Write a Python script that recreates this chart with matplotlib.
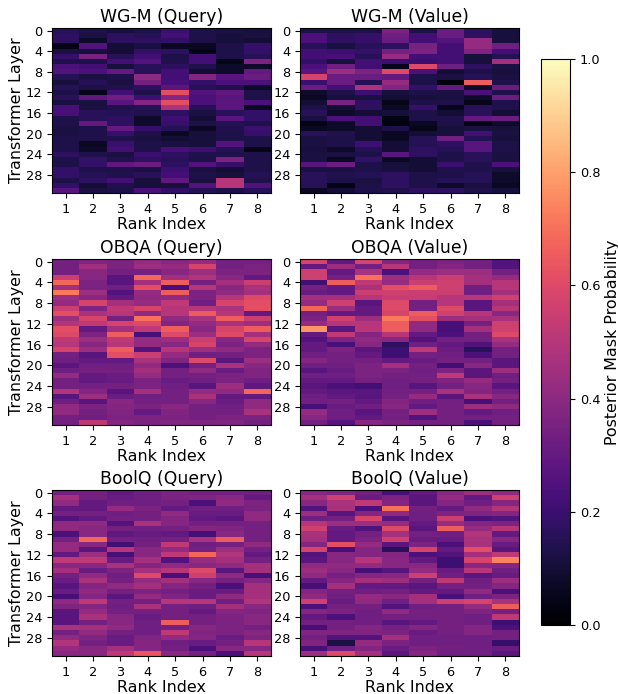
import matplotlib
matplotlib.use("Agg")
import matplotlib.pyplot as plt
import numpy as np

W, H = 618, 694

rank_labels = [1, 2, 3, 4, 5, 6, 7, 8]
layer_ticks = [0, 4, 8, 12, 16, 20, 24, 28]

wgm_query = [
    [.16, .13, .11, .13, .20, .13, .12, .11],
    [.17, .12, .17, .15, .22, .13, .11, .12],
    [.17, .08, .17, .17, .18, .13, .11, .10],
    [.04, .26, .10, .12, .07, .07, .13, .19],
    [.12, .11, .10, .18, .17, .04, .13, .18],
    [.19, .35, .16, .22, .13, .22, .13, .16],
    [.14, .13, .22, .26, .14, .22, .05, .36],
    [.24, .22, .11, .16, .17, .14, .08, .08],
    [.26, .24, .30, .16, .22, .10, .08, .30],
    [.15, .12, .13, .40, .22, .38, .27, .32],
    [.11, .15, .12, .34, .23, .18, .24, .24],
    [.15, .13, .14, .17, .28, .16, .14, .08],
    [.13, .05, .22, .13, .62, .26, .29, .13],
    [.16, .29, .33, .21, .38, .24, .27, .13],
    [.12, .12, .27, .38, .62, .24, .28, .24],
    [.23, .12, .14, .15, .48, .15, .28, .07],
    [.23, .16, .15, .14, .17, .12, .16, .18],
    [.13, .16, .17, .08, .21, .10, .27, .18],
    [.13, .30, .17, .08, .19, .13, .15, .14],
    [.12, .13, .30, .19, .15, .07, .14, .20],
    [.12, .13, .19, .13, .07, .11, .13, .19],
    [.13, .14, .14, .12, .10, .11, .13, .13],
    [.13, .07, .20, .13, .12, .11, .26, .13],
    [.13, .08, .22, .13, .23, .21, .15, .05],
    [.17, .14, .12, .20, .17, .14, .14, .13],
    [.13, .18, .14, .17, .16, .13, .36, .13],
    [.13, .18, .29, .32, .17, .26, .19, .13],
    [.18, .13, .13, .12, .21, .12, .10, .13],
    [.18, .15, .14, .16, .22, .13, .11, .15],
    [.13, .17, .22, .11, .29, .12, .50, .14],
    [.18, .10, .14, .11, .11, .26, .50, .25],
    [.27, .12, .13, .24, .18, .15, .13, .16],
]

wgm_value = [
    [.13, .13, .13, .36, .13, .32, .17, .11],
    [.24, .17, .19, .33, .22, .32, .17, .11],
    [.24, .17, .19, .32, .22, .26, .42, .11],
    [.16, .12, .16, .17, .35, .22, .42, .33],
    [.22, .20, .19, .34, .36, .22, .37, .22],
    [.22, .23, .15, .42, .22, .22, .11, .15],
    [.18, .11, .22, .20, .20, .22, .11, .46],
    [.24, .33, .22, .05, .60, .33, .17, .12],
    [.27, .44, .36, .60, .24, .10, .13, .11],
    [.58, .32, .32, .30, .13, .12, .15, .12],
    [.20, .32, .15, .42, .13, .02, .66, .14],
    [.32, .22, .48, .37, .18, .30, .08, .32],
    [.08, .13, .20, .11, .13, .12, .24, .14],
    [.07, .11, .12, .10, .11, .12, .08, .32],
    [.10, .35, .17, .05, .13, .13, .05, .14],
    [.13, .10, .17, .07, .19, .05, .16, .14],
    [.16, .08, .10, .11, .13, .10, .16, .10],
    [.12, .24, .22, .04, .13, .14, .30, .32],
    [.04, .08, .22, .03, .07, .13, .04, .08],
    [.07, .08, .10, .13, .05, .11, .12, .11],
    [.16, .14, .10, .07, .10, .11, .22, .12],
    [.12, .13, .10, .07, .15, .33, .15, .11],
    [.12, .13, .21, .10, .15, .17, .27, .13],
    [.11, .08, .15, .10, .17, .15, .27, .13],
    [.12, .12, .13, .28, .17, .13, .16, .12],
    [.12, .07, .18, .07, .10, .13, .16, .12],
    [.27, .32, .13, .11, .10, .20, .14, .24],
    [.12, .12, .13, .11, .10, .14, .14, .11],
    [.16, .14, .15, .17, .13, .13, .15, .08],
    [.16, .13, .12, .17, .13, .15, .15, .08],
    [.15, .04, .13, .17, .13, .08, .12, .07],
    [.07, .10, .13, .14, .17, .17, .13, .11],
]

obqa_query = [
    [.34, .37, .36, .42, .39, .42, .34, .34],
    [.34, .45, .36, .44, .42, .58, .34, .36],
    [.34, .39, .34, .34, .39, .44, .36, .36],
    [.55, .39, .27, .68, .45, .49, .39, .30],
    [.68, .36, .27, .46, .66, .34, .46, .55],
    [.46, .36, .33, .62, .23, .50, .39, .47],
    [.72, .44, .26, .42, .66, .36, .41, .46],
    [.44, .39, .30, .41, .41, .36, .50, .60],
    [.42, .58, .46, .42, .52, .33, .58, .62],
    [.55, .37, .52, .58, .50, .50, .47, .62],
    [.62, .47, .50, .41, .50, .66, .50, .30],
    [.44, .58, .34, .70, .41, .47, .66, .55],
    [.49, .52, .58, .60, .37, .42, .47, .44],
    [.62, .30, .46, .52, .66, .39, .58, .66],
    [.60, .36, .66, .23, .60, .44, .60, .46],
    [.52, .44, .52, .42, .44, .55, .39, .58],
    [.50, .39, .50, .42, .39, .58, .36, .42],
    [.58, .44, .66, .26, .50, .44, .41, .36],
    [.34, .27, .62, .55, .42, .33, .34, .36],
    [.33, .30, .30, .47, .37, .60, .28, .44],
    [.28, .33, .33, .41, .24, .34, .47, .39],
    [.33, .34, .34, .45, .34, .41, .31, .37],
    [.42, .30, .32, .42, .34, .34, .36, .37],
    [.34, .30, .31, .36, .31, .33, .36, .33],
    [.34, .34, .34, .36, .33, .27, .44, .29],
    [.49, .38, .27, .46, .34, .42, .41, .68],
    [.27, .44, .32, .33, .34, .47, .30, .30],
    [.33, .27, .39, .34, .34, .39, .31, .41],
    [.41, .36, .38, .36, .39, .34, .33, .41],
    [.41, .34, .37, .30, .37, .34, .34, .47],
    [.34, .33, .36, .36, .36, .34, .36, .36],
    [.34, .52, .38, .36, .37, .37, .37, .34],
]

obqa_value = [
    [.58, .30, .58, .38, .34, .36, .34, .26],
    [.30, .44, .34, .50, .34, .38, .34, .26],
    [.56, .30, .47, .24, .42, .44, .44, .34],
    [.56, .34, .70, .44, .50, .55, .46, .42],
    [.22, .66, .52, .42, .55, .56, .46, .50],
    [.34, .30, .47, .62, .66, .56, .33, .50],
    [.31, .30, .55, .56, .55, .55, .33, .46],
    [.46, .46, .50, .54, .54, .50, .50, .56],
    [.42, .56, .27, .60, .34, .50, .28, .46],
    [.68, .44, .30, .60, .34, .60, .28, .50],
    [.34, .30, .30, .58, .66, .56, .50, .39],
    [.36, .56, .44, .72, .62, .44, .46, .47],
    [.42, .50, .50, .66, .41, .23, .34, .56],
    [.78, .28, .50, .66, .41, .23, .46, .56],
    [.30, .52, .38, .50, .30, .24, .34, .60],
    [.26, .36, .41, .39, .26, .34, .34, .47],
    [.30, .23, .39, .17, .33, .30, .25, .42],
    [.30, .36, .28, .21, .52, .32, .16, .34],
    [.33, .34, .30, .21, .34, .33, .24, .34],
    [.38, .34, .34, .30, .31, .34, .34, .28],
    [.33, .33, .36, .46, .34, .22, .39, .28],
    [.27, .31, .36, .36, .33, .36, .28, .44],
    [.33, .33, .36, .34, .34, .52, .28, .33],
    [.30, .30, .34, .33, .34, .37, .42, .34],
    [.28, .24, .22, .33, .27, .34, .39, .28],
    [.30, .28, .28, .34, .34, .47, .38, .34],
    [.33, .30, .27, .34, .42, .28, .47, .39],
    [.33, .34, .30, .38, .33, .34, .23, .34],
    [.23, .31, .33, .39, .30, .34, .44, .41],
    [.42, .33, .27, .34, .44, .34, .30, .33],
    [.39, .33, .30, .34, .26, .34, .34, .34],
    [.34, .27, .39, .36, .34, .34, .24, .34],
]

boolq_query = [
    [.34, .34, .30, .33, .36, .34, .34, .33],
    [.46, .34, .31, .33, .36, .37, .39, .30],
    [.41, .30, .33, .33, .34, .24, .41, .36],
    [.30, .30, .42, .36, .30, .33, .33, .36],
    [.34, .34, .33, .34, .41, .31, .31, .41],
    [.26, .30, .34, .34, .38, .30, .28, .41],
    [.41, .41, .26, .47, .38, .34, .34, .34],
    [.41, .39, .34, .33, .34, .38, .37, .34],
    [.24, .39, .29, .31, .30, .22, .39, .34],
    [.34, .68, .34, .33, .34, .47, .66, .34],
    [.42, .39, .22, .34, .52, .33, .34, .41],
    [.42, .28, .50, .39, .42, .34, .44, .34],
    [.30, .44, .23, .39, .52, .68, .49, .30],
    [.52, .52, .31, .46, .26, .42, .46, .34],
    [.39, .39, .47, .38, .41, .39, .41, .46],
    [.46, .31, .36, .46, .50, .60, .28, .46],
    [.34, .41, .33, .60, .23, .56, .41, .23],
    [.31, .47, .34, .42, .46, .39, .34, .38],
    [.27, .38, .41, .46, .38, .34, .24, .46],
    [.31, .41, .34, .36, .34, .32, .31, .46],
    [.23, .38, .28, .42, .37, .31, .41, .46],
    [.41, .52, .34, .34, .50, .50, .33, .49],
    [.37, .38, .33, .47, .34, .33, .46, .39],
    [.28, .42, .34, .34, .34, .30, .38, .37],
    [.27, .47, .39, .31, .34, .34, .36, .39],
    [.27, .34, .39, .33, .66, .34, .36, .39],
    [.47, .46, .41, .33, .34, .39, .36, .34],
    [.34, .41, .34, .33, .52, .37, .36, .39],
    [.41, .37, .31, .37, .42, .38, .31, .37],
    [.49, .34, .31, .38, .33, .31, .34, .50],
    [.42, .39, .46, .38, .34, .24, .39, .39],
    [.39, .39, .52, .64, .39, .34, .24, .50],
]

boolq_value = [
    [.39, .37, .34, .23, .30, .39, .44, .41],
    [.46, .56, .31, .36, .28, .42, .30, .56],
    [.39, .47, .52, .38, .28, .38, .33, .38],
    [.26, .47, .24, .70, .34, .30, .41, .49],
    [.44, .27, .38, .41, .33, .36, .37, .38],
    [.33, .34, .58, .27, .33, .55, .24, .26],
    [.50, .44, .44, .42, .30, .42, .38, .36],
    [.56, .31, .25, .60, .28, .66, .42, .50],
    [.47, .30, .34, .46, .34, .33, .49, .30],
    [.46, .30, .36, .56, .31, .31, .47, .39],
    [.38, .62, .42, .28, .36, .24, .47, .31],
    [.58, .23, .38, .16, .58, .30, .62, .28],
    [.26, .39, .38, .38, .24, .26, .46, .52],
    [.28, .39, .50, .39, .30, .21, .58, .74],
    [.41, .41, .42, .39, .39, .21, .39, .38],
    [.44, .39, .23, .27, .42, .31, .50, .33],
    [.41, .34, .38, .39, .56, .33, .28, .31],
    [.30, .38, .46, .44, .34, .52, .33, .44],
    [.23, .46, .30, .30, .28, .34, .34, .38],
    [.38, .34, .33, .34, .30, .30, .41, .24],
    [.41, .33, .42, .39, .46, .23, .33, .36],
    [.56, .31, .41, .33, .46, .56, .58, .47],
    [.24, .34, .34, .26, .33, .34, .42, .66],
    [.38, .36, .33, .41, .34, .34, .37, .34],
    [.30, .24, .33, .34, .34, .34, .33, .52],
    [.34, .34, .33, .27, .30, .34, .33, .21],
    [.23, .34, .38, .34, .38, .34, .38, .24],
    [.37, .37, .37, .36, .31, .34, .38, .34],
    [.34, .26, .26, .46, .33, .33, .33, .34],
    [.37, .12, .42, .36, .33, .33, .33, .19],
    [.23, .33, .38, .31, .36, .34, .33, .31],
    [.44, .60, .46, .28, .38, .33, .33, .28],
]

titles = ["WG-M (Query)", "WG-M (Value)", "OBQA (Query)", "OBQA (Value)", "BoolQ (Query)", "BoolQ (Value)"]
panels = [wgm_query, wgm_value, obqa_query, obqa_value, boolq_query, boolq_value]


def box(x0, y0, x1, y1):
    return [x0 / W, 1 - y1 / H, (x1 - x0) / W, (y1 - y0) / H]


fig = plt.figure(figsize=(W / 100, H / 100), dpi=100)
lefts = [(52, 271), (300, 519)]
tops = [(28, 193), (259, 425), (490, 656)]

for i in range(6):
    x0, x1 = lefts[i % 2]
    y0, y1 = tops[i // 2]
    ax = fig.add_axes(box(x0, y0, x1, y1))
    im = ax.imshow(panels[i], cmap="magma", vmin=0, vmax=1, aspect="auto", interpolation="nearest")
    ax.set_title(titles[i], fontsize=12.4, pad=4.5)
    ax.set_xticks(np.arange(8))
    ax.set_xticklabels(rank_labels, fontsize=9.3)
    ax.set_yticks(layer_ticks)
    ax.set_yticklabels(layer_ticks, fontsize=9.3)
    ax.set_xlabel("Rank Index", fontsize=11.4, labelpad=1)
    if i % 2 == 0:
        ax.set_ylabel("Transformer Layer", fontsize=11.4, labelpad=1)

cax = fig.add_axes(box(541, 59, 570, 625))
cb = fig.colorbar(im, cax=cax)
cb.set_ticks([0, .2, .4, .6, .8, 1])
cb.ax.tick_params(labelsize=9.3)
cb.set_label("Posterior Mask Probability", fontsize=11.4, labelpad=3)

fig.savefig("out.png", dpi=100)
